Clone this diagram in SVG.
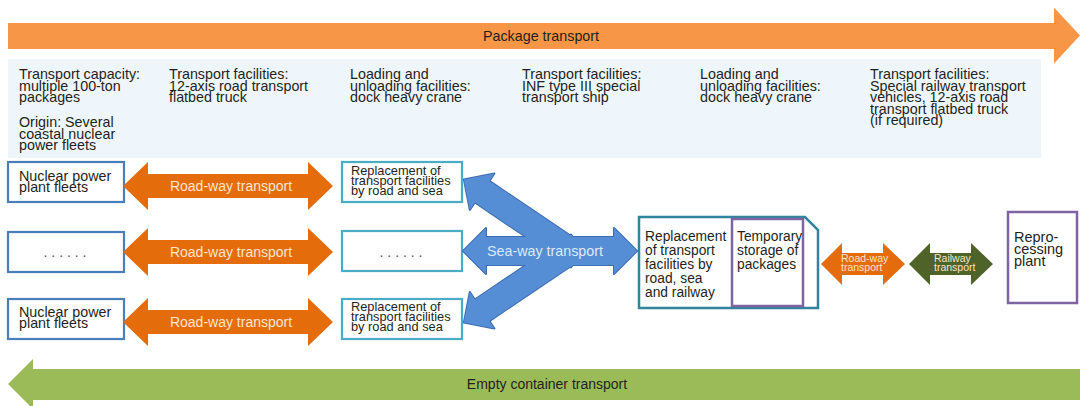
<svg xmlns="http://www.w3.org/2000/svg" width="1080" height="406" viewBox="0 0 1080 406">
<style>
text{font-family:"Liberation Sans",Arial,sans-serif;fill:#231f20}
.pt{font-size:14.3px}
.nb{font-size:14.3px}
.rb{font-size:12.8px}
.hub{font-size:13.8px}
.box-l{fill:#fff;stroke:#4a7ebb;stroke-width:2.2}
.box-r{fill:#fff;stroke:#4bacc6;stroke-width:2.2}
.purple{fill:#fff;stroke:#8064a2;stroke-width:2.5}
.road{fill:#e46c0a}
.rtxt{fill:#fde4cf;font-size:14px}
.stxt{fill:#dde9f7;font-size:14.3px}
.small{fill:#fbe3cd;font-size:10.5px}
.dots{font-size:14px;fill:#555}
</style>
<defs>
<polygon id="roadArrow" points="0,0 25,-24 25,-12 185,-12 185,-24 210,0 185,24 185,12 25,12 25,24"/>
<polygon id="smallArrow" points="0,0 21,-21 21,-11 62,-11 62,-21 84,0 62,21 62,11 21,11 21,21"/>
<polygon id="arm" points="-128,0 -106,-22 -106,-13 10,-13 10,13 -106,13 -106,22"/>
<polygon id="seaMain" points="463,251 486,228 486,237 614,237 614,228 637,251 614,274 614,265 486,265 486,274"/>
</defs>

<g id="package-transport">
<polygon points="8,23 1054,23 1054,7.5 1080,35.5 1054,63.5 1054,49 8,49" fill="#f79646"/>
<text class="pt" x="541" y="40.5" text-anchor="middle">Package transport</text>
</g>

<g id="info-panel">
<rect x="8" y="59" width="1033" height="99" fill="#eff6fb"/>
<text class="pt"><tspan x="19" y="79">Transport capacity:</tspan><tspan x="19" y="90.5">multiple 100-ton</tspan><tspan x="19" y="102">packages</tspan></text>
<text class="pt"><tspan x="19" y="127">Origin: Several</tspan><tspan x="19" y="138.5">coastal nuclear</tspan><tspan x="19" y="150">power fleets</tspan></text>
<text class="pt"><tspan x="169" y="79">Transport facilities:</tspan><tspan x="169" y="90.5">12-axis road transport</tspan><tspan x="169" y="102">flatbed truck</tspan></text>
<text class="pt"><tspan x="350" y="79">Loading and</tspan><tspan x="350" y="90.5">unloading facilities:</tspan><tspan x="350" y="102">dock heavy crane</tspan></text>
<text class="pt"><tspan x="522" y="79">Transport facilities:</tspan><tspan x="522" y="90.5">INF type III special</tspan><tspan x="522" y="102">transport ship</tspan></text>
<text class="pt"><tspan x="700" y="79">Loading and</tspan><tspan x="700" y="90.5">unloading facilities:</tspan><tspan x="700" y="102">dock heavy crane</tspan></text>
<text class="pt"><tspan x="870" y="79">Transport facilities:</tspan><tspan x="870" y="90.5">Special railway transport</tspan><tspan x="870" y="102">vehicles, 12-axis road</tspan><tspan x="870" y="113.5">transport flatbed truck</tspan><tspan x="870" y="125">(if required)</tspan></text>
</g>

<g id="npp-1">
<rect class="box-l" x="8" y="162" width="116" height="40"/>
<text class="nb"><tspan x="19" y="181">Nuclear power</tspan><tspan x="19" y="192">plant fleets</tspan></text>
</g>
<g id="npp-2">
<rect class="box-l" x="8" y="232" width="116" height="40"/>
<text class="dots" x="65" y="257" text-anchor="middle">. . . . . .</text>
</g>
<g id="npp-3">
<rect class="box-l" x="8" y="299" width="116" height="40"/>
<text class="nb"><tspan x="19" y="317">Nuclear power</tspan><tspan x="19" y="328">plant fleets</tspan></text>
</g>

<g id="port-1">
<rect class="box-r" x="342" y="162" width="120" height="40"/>
<text class="rb"><tspan x="351" y="175">Replacement of</tspan><tspan x="351" y="185">transport facilities</tspan><tspan x="351" y="195">by road and sea</tspan></text>
</g>
<g id="port-2">
<rect class="box-r" x="342" y="231" width="120" height="40"/>
<text class="dots" x="401" y="257" text-anchor="middle">. . . . . .</text>
</g>
<g id="port-3">
<rect class="box-r" x="342" y="299" width="120" height="40"/>
<text class="rb"><tspan x="351" y="311">Replacement of</tspan><tspan x="351" y="321">transport facilities</tspan><tspan x="351" y="331">by road and sea</tspan></text>
</g>

<g id="hub">
<polygon points="639,217 805,217 818,230 818,308 639,308" fill="#fff" stroke="#31849b" stroke-width="2.5"/>
<rect class="purple" x="732" y="219" width="71" height="87"/>
<text class="hub"><tspan x="645" y="241">Replacement</tspan><tspan x="645" y="255">of transport</tspan><tspan x="645" y="269">facilities by</tspan><tspan x="645" y="283">road, sea</tspan><tspan x="645" y="297">and railway</tspan></text>
<text class="hub"><tspan x="737" y="241">Temporary</tspan><tspan x="737" y="255">storage of</tspan><tspan x="737" y="269">packages</tspan></text>
</g>

<g id="reprocessing-plant">
<rect class="purple" x="1008" y="212" width="69" height="91"/>
<text style="font-size:14.5px"><tspan x="1014" y="242">Repro-</tspan><tspan x="1014" y="254">cessing</tspan><tspan x="1014" y="266">plant</tspan></text>
</g>

<g id="connectors">
<g class="road">
<use href="#roadArrow" x="123" y="186"/>
<use href="#roadArrow" x="123" y="252"/>
<use href="#roadArrow" x="123" y="322"/>
</g>
<text class="rtxt" x="231" y="191" text-anchor="middle">Road-way transport</text>
<text class="rtxt" x="231" y="257" text-anchor="middle">Road-way transport</text>
<text class="rtxt" x="231" y="327" text-anchor="middle">Road-way transport</text>

<g id="sea-way" fill="#558ed5">
<g stroke="#3c6db0" stroke-width="2" stroke-linejoin="round">
<use href="#seaMain"/>
<use href="#arm" transform="translate(570,251) rotate(34)"/>
<use href="#arm" transform="translate(570,251) rotate(-34)"/>
</g>
<use href="#seaMain"/>
<use href="#arm" transform="translate(570,251) rotate(34)"/>
<use href="#arm" transform="translate(570,251) rotate(-34)"/>
</g>
<text class="stxt" x="545" y="256" text-anchor="middle">Sea-way transport</text>

<use href="#smallArrow" x="821" y="264" fill="#e46c0a"/>
<text class="small"><tspan x="841" y="262">Road-way</tspan><tspan x="841" y="271">transport</tspan></text>
<use href="#smallArrow" x="909" y="264" fill="#4f6228"/>
<text class="small"><tspan x="934" y="262">Railway</tspan><tspan x="934" y="271">transport</tspan></text>
</g>

<g id="empty-container-transport">
<polygon points="1080,369 33,369 33,359 8,384 33,409 33,400 1080,400" fill="#9bbb59"/>
<text x="547" y="389" text-anchor="middle" style="font-size:14px">Empty container transport</text>
</g>
</svg>
